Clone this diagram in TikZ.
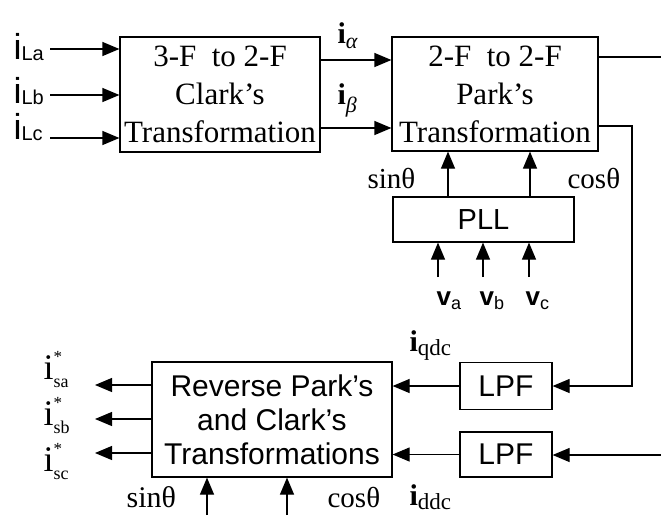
\documentclass[tikz,border=0pt]{standalone}
\usepackage{fontspec}
\setmainfont{Liberation Serif}
\setsansfont{Liberation Sans}
\usetikzlibrary{arrows.meta}

% font size shortcut: size and baselineskip in pt
\newcommand\fsz[2]{\fontsize{#1}{#2}\selectfont}

\begin{document}
\begin{tikzpicture}[x=1pt,y=-1pt,line width=1.2pt,
  blk/.style={draw,line width=1.2pt,inner sep=0pt,align=center},
  arr/.style={-{Triangle[length=17pt,width=14pt]}},
  lbl/.style={anchor=base west,inner sep=0pt}]
\useasboundingbox (0,0) rectangle (661,515);

% ---- blocks ----
\node[blk,minimum width=200pt,minimum height=115pt,font=\fsz{31}{38}]
  (clark) at (220,94.5) {3-F\ \ to 2-F\\Clark’s\\Transformation};
\node[blk,minimum width=206pt,minimum height=114pt,font=\fsz{31}{38}]
  (park) at (495,94) {2-F\ \ to 2-F\\Park’s\\Transformation};
\node[blk,minimum width=181pt,minimum height=45pt,font=\sffamily\fsz{29}{29}]
  (pll) at (483.5,219.5) {PLL};
\node[blk,minimum width=240pt,minimum height=115pt,font=\sffamily\fsz{30}{34}]
  (rev) at (272,419.5) {Reverse Park’s\\and Clark’s\\Transformations};
\node[blk,minimum width=92pt,minimum height=47pt,font=\sffamily\fsz{30}{30}]
  (lpfq) at (506,386) {LPF};
\node[blk,minimum width=92pt,minimum height=45pt,font=\sffamily\fsz{30}{30}]
  (lpfd) at (506,454.5) {LPF};

% ---- load current inputs ----
\coordinate (inA) at (50,49);
\coordinate (inB) at (50,95);
\coordinate (inC) at (50,138);
\draw[arr] (inA) -- (inA -| clark.west);
\draw[arr] (inB) -- (inB -| clark.west);
\draw[arr] (inC) -- (inC -| clark.west);
\node[lbl,font=\sffamily] (tLa) at (13,59) {{\fsz{36}{36}i}\raisebox{-1pt}{\fsz{20}{20}La}};
\node[lbl,font=\sffamily] (tLb) at (13,103) {{\fsz{36}{36}i}\raisebox{-1pt}{\fsz{20}{20}Lb}};
\node[lbl,font=\sffamily] (tLc) at (13,139) {{\fsz{36}{36}i}\raisebox{-1pt}{\fsz{20}{20}Lc}};

% ---- Clark -> Park ----
\coordinate (ya) at (0,60);
\coordinate (yb) at (0,128);
\draw[arr] (clark.east |- ya) -- (park.west |- ya);
\draw[arr] (clark.east |- yb) -- (park.west |- yb);
\node[lbl] (tal) at (337,43) {{\fsz{30}{30}\bfseries i}\raisebox{-5pt}{\fsz{22}{22}\itshape α}};
\node[lbl] (tbe) at (337,104) {{\fsz{30}{30}\bfseries i}\raisebox{-8pt}{\fsz{22}{22}\itshape β}};

% ---- Park outputs ----
\coordinate (qout) at (661,57);
\draw (park.east |- qout) -- (qout);
\coordinate (dturn) at (632,126);
\draw[arr] (park.east |- dturn) -- (dturn) -- (dturn |- lpfq.east) -- (lpfq.east);

% ---- PLL ----
\coordinate (xs) at (448,0);
\coordinate (xc) at (530,0);
\draw[arr] (pll.north -| xs) -- (park.south -| xs);
\draw[arr] (pll.north -| xc) -- (park.south -| xc);
\node[lbl] (tsin) at (367,188) {\fsz{29}{29}sinθ};
\node[lbl] (tcos) at (567,188) {\fsz{29}{29}cosθ};

\coordinate (va) at (438,277);
\coordinate (vb) at (483,277);
\coordinate (vc) at (529,277);
\draw[arr] (va) -- (va |- pll.south);
\draw[arr] (vb) -- (vb |- pll.south);
\draw[arr] (vc) -- (vc |- pll.south);
\node[lbl,font=\sffamily] (tva) at (436,305) {{\fsz{26}{26}\bfseries v}\raisebox{-4pt}{\fsz{18}{18}a}};
\node[lbl,font=\sffamily] (tvb) at (479,305) {{\fsz{26}{26}\bfseries v}\raisebox{-4pt}{\fsz{18}{18}b}};
\node[lbl,font=\sffamily] (tvc) at (525,305) {{\fsz{26}{26}\bfseries v}\raisebox{-4pt}{\fsz{18}{18}c}};

% ---- LPF stage ----
\coordinate (din) at (661,455);
\draw[arr] (din) -- (din -| lpfd.east);
\draw[arr] (lpfq.west) -- (lpfq.west -| rev.east);
\draw[arr] (lpfd.west) -- (lpfd.west -| rev.east);
\node[lbl] (tq) at (409,351) {{\fsz{30}{30}\bfseries i}\raisebox{-4pt}{\fsz{23}{23}qdc}};
\node[lbl] (td) at (409,505) {{\fsz{30}{30}\bfseries i}\raisebox{-4pt}{\fsz{23}{23}ddc}};

% ---- reference current outputs ----
\coordinate (osa) at (95,385);
\coordinate (osb) at (95,419);
\coordinate (osc) at (95,453);
\draw[arr] (rev.west |- osa) -- (osa);
\draw[arr] (rev.west |- osb) -- (osb);
\draw[arr] (rev.west |- osc) -- (osc);
\node[lbl] (tsa) at (43,379) {{\fsz{36}{36}i}\rlap{\raisebox{17pt}{\fsz{17}{17}*}}\raisebox{-8pt}{\fsz{18}{18}sa}};
\node[lbl] (tsb) at (43,425) {{\fsz{36}{36}i}\rlap{\raisebox{17pt}{\fsz{17}{17}*}}\raisebox{-8pt}{\fsz{18}{18}sb}};
\node[lbl] (tsc) at (43,471) {{\fsz{36}{36}i}\rlap{\raisebox{17pt}{\fsz{17}{17}*}}\raisebox{-8pt}{\fsz{18}{18}sc}};

% ---- angle inputs of the reverse transform ----
\coordinate (bs) at (207,515);
\coordinate (bc) at (287,515);
\draw[arr] (bs) -- (bs |- rev.south);
\draw[arr] (bc) -- (bc |- rev.south);
\node[lbl] (bsin) at (126,507) {\fsz{30}{30}sinθ};
\node[lbl] (bcos) at (327,507) {\fsz{29}{29}cosθ};
\end{tikzpicture}
\end{document}
